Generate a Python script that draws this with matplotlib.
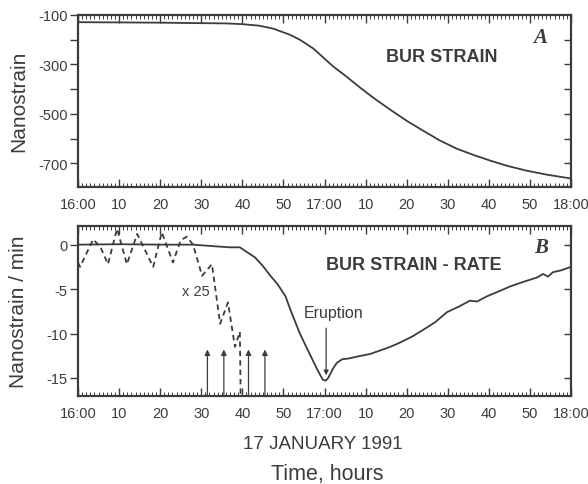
import matplotlib
matplotlib.use("Agg")
import matplotlib.pyplot as plt
from matplotlib.ticker import FixedLocator, MultipleLocator

plt.rcParams['font.family'] = ['Liberation Sans', 'DejaVu Sans']
plt.rcParams['axes.unicode_minus'] = False

INK = '#3c3c3c'

# Time axis: minutes after 16:00 on 17 January 1991
tick_minutes = [0, 10, 20, 30, 40, 50, 60, 70, 80, 90, 100, 110, 120]
tick_labels = ['16:00', '10', '20', '30', '40', '50', '17:00',
               '10', '20', '30', '40', '50', '18:00']

# Panel A: BUR strain (nanostrain)
strain_t = [0, 10, 20, 30, 36, 40, 44, 47.5, 51.6, 54.0, 57.3, 59.7, 62.1,
            65.4, 68.6, 71.9, 75.9, 80.0, 84.1, 88.1, 92.2, 96.2, 100.3,
            104.4, 109.2, 114.1, 119.4, 120]
strain_v = [-129, -130, -131, -133, -134, -137, -143, -155, -180, -200, -236,
            -272, -308, -350, -393, -435, -482, -528, -569, -608, -641, -666,
            -689, -710, -730, -746, -760, -762]

# Panel B: strain rate (nanostrain / min)
rate_t = [0, 10, 20, 28, 33.8, 37, 39.4, 41, 43, 45, 47, 48.5, 50.5, 51.6,
          54.0, 56.5, 58.4, 59.6, 60.3, 60.9, 62.0, 63.0, 64.3, 66.0, 67.9,
          71.1, 73.0, 76.0, 78.0, 81.5, 85.0, 87.0, 89.8, 93.0, 95.4, 97.1,
          99.6, 102.7, 105.2, 108.3, 111.7, 113.2, 114.4, 115.6, 117.5, 120]
rate_v = [0.0, 0.05, 0.0, 0.0, -0.2, -0.3, -0.3, -0.8, -1.4, -2.4, -3.6,
          -4.4, -5.8, -7.2, -10.0, -12.4, -14.2, -15.2, -15.3, -15.0, -14.0,
          -13.3, -12.9, -12.8, -12.6, -12.3, -12.0, -11.5, -11.1, -10.3, -9.3,
          -8.7, -7.6, -6.9, -6.3, -6.4, -5.8, -5.2, -4.7, -4.2, -3.7, -3.3,
          -3.6, -3.1, -2.9, -2.5]

# Early part of the rate magnified x25
rate_x25_t = [0, 0.5, 3.7, 5.5, 7.3, 9.5, 11.9, 14.4, 18.3, 20.4, 23.1,
              25.0, 26.5, 28.0, 30.2, 32.6, 34.6, 36.5, 38.2, 39.4, 39.6]
rate_x25_v = [-2.0, -2.5, 0.6, -0.3, -2.2, 1.8, -2.2, 1.2, -2.5, 1.4, -2.0,
              0.5, 0.9, 0.0, -3.5, -2.2, -8.9, -6.5, -11.5, -9.8, -17.5]

# Event markers and eruption time
marker_t = [31.5, 35.5, 41.5, 45.5]
marker_tip = -11.8
eruption_t = 60.4

A_YLIM = (-796, -100)
B_YLIM = (-17.03, 2.1)

fig = plt.figure(figsize=(5.88, 4.85), dpi=100)
axA = fig.add_axes([78 / 588, 1 - 188 / 485, 493 / 588, 172 / 485])
axB = fig.add_axes([78 / 588, 1 - 397 / 485, 493 / 588, 170 / 485])


def frame(ax, ylim, left_major, left_minor, right_ticks):
    ax.set_xlim(0, 120)
    ax.set_ylim(*ylim)
    for sp in ax.spines.values():
        sp.set_linewidth(1.6)
        sp.set_color(INK)
    ax.xaxis.set_major_locator(FixedLocator(tick_minutes))
    ax.xaxis.set_minor_locator(MultipleLocator(1))
    ax.set_xticklabels(tick_labels)
    ax.tick_params(axis='x', which='major', direction='in', top=True,
                   bottom=True, length=5.5, width=1.0, color=INK,
                   labelsize=10.5, labelcolor=INK, pad=7.5)
    ax.tick_params(axis='x', which='minor', direction='in', top=True,
                   bottom=True, length=2.8, width=0.7, color=INK)
    ax.yaxis.set_major_locator(FixedLocator(left_major))
    ax.yaxis.set_minor_locator(FixedLocator(left_minor))
    ax.tick_params(axis='y', which='both', direction='out', left=True,
                   right=False, length=5.8, width=1.0, color=INK,
                   labelsize=10.5, labelcolor=INK, pad=1.5)
    sec = ax.secondary_yaxis('right')
    sec.yaxis.set_major_locator(FixedLocator(right_ticks))
    sec.tick_params(axis='y', direction='in', length=5.0, width=1.0,
                    color=INK, labelright=False)
    sec.spines['right'].set_visible(False)


frame(axA, A_YLIM, [-100, -300, -500, -700], [-200, -400, -600],
      [-200, -300, -400, -500, -600, -700])
frame(axB, B_YLIM, [0, -5, -10, -15], [], [0, -5, -10, -15])

# Panel A
axA.plot(strain_t, strain_v, color=INK, lw=1.3)
axA.text(88.6, -266, 'BUR STRAIN', ha='center', va='center',
         fontsize=13, fontweight='bold', color=INK)
axA.text(112.5, -189, 'A', ha='center', va='center', fontsize=15,
         fontweight='bold', fontstyle='italic', family='Liberation Serif',
         color=INK)

# Panel B
axB.plot(rate_t, rate_v, color=INK, lw=1.3)
axB.plot(rate_x25_t, rate_x25_v, color=INK, lw=1.3, ls=(0, (3.0, 2.2)))
for t in marker_t:
    axB.annotate('', xy=(t, marker_tip), xytext=(t, B_YLIM[0]),
                 arrowprops=dict(arrowstyle='-|>', lw=0.9, color=INK,
                                 mutation_scale=8, shrinkA=0, shrinkB=0))
axB.annotate('', xy=(eruption_t, -14.7), xytext=(eruption_t, -9.4),
             arrowprops=dict(arrowstyle='-|>', lw=0.9, color=INK,
                             mutation_scale=7, shrinkA=0, shrinkB=0))
axB.text(62.3, -7.6, 'Eruption', ha='center', va='center', fontsize=11.5,
         color=INK)
axB.text(28.7, -5.2, 'x 25', ha='center', va='center', fontsize=10.5,
         color=INK)
axB.text(81.8, -2.2, 'BUR STRAIN - RATE', ha='center', va='center',
         fontsize=13, fontweight='bold', color=INK)
axB.text(112.7, -0.3, 'B', ha='center', va='center', fontsize=15,
         fontweight='bold', fontstyle='italic', family='Liberation Serif',
         color=INK)

# Axis titles
fig.text(19 / 588, 1 - 101 / 485, 'Nanostrain', rotation=90, ha='center',
         va='center', fontsize=15, color=INK)
fig.text(19 / 588, 1 - 312 / 485, 'Nanostrain / min', rotation=90,
         ha='center', va='center', fontsize=15, color=INK)
fig.text(323 / 588, 1 - 445 / 485, '17 JANUARY 1991', ha='center',
         va='center', fontsize=13.5, color=INK)
fig.text(327 / 588, 1 - 475 / 485, 'Time, hours', ha='center',
         va='center', fontsize=15.5, color=INK)

fig.savefig('out.png', dpi=100, facecolor='white')
